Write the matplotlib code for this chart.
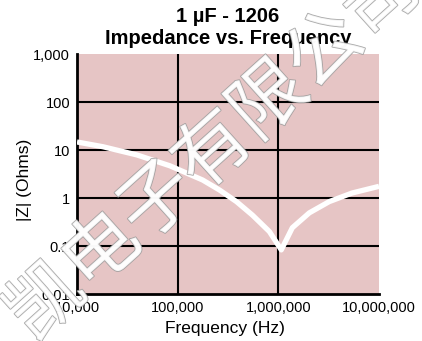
import matplotlib
matplotlib.use("Agg")
import matplotlib.pyplot as plt
import matplotlib.patheffects as pe

plt.rcParams['font.family'] = ['Liberation Sans', 'DejaVu Sans']

# values
freq_hz = [10000, 18100, 39300, 83400, 177000, 260000, 384000, 553000,
           815000, 1070000, 1377000, 2030000, 3200000, 5400000, 10000000]
impedance_ohm = [14.7, 11.7, 7.9, 4.7, 2.37, 1.47, 0.84, 0.44,
                 0.20, 0.083, 0.24, 0.49, 0.84, 1.27, 1.75]

x_ticks = [1e4, 1e5, 1e6, 1e7]
x_labels = ["10,000", "100,000", "1,000,000", "10,000,000"]
y_ticks = [0.01, 0.1, 1, 10, 100, 1000]
y_labels = ["0.01", "0.1", "1", "10", "100", "1,000"]

fig = plt.figure(figsize=(4.22, 3.41), dpi=100)
ax = fig.add_axes([77/422, 1-294/341, 302/422, 240/341])
ax.set_facecolor('#e6c5c5')

ax.set_xscale('log')
ax.set_yscale('log')
ax.set_xlim(1e4, 1e7)
ax.set_ylim(0.01, 1000)
ax.minorticks_off()

ax.set_xticks(x_ticks)
ax.set_xticklabels(x_labels, fontsize=10.5)
ax.set_yticks(y_ticks)
ax.set_yticklabels(y_labels, fontsize=10.5)
ax.tick_params(length=0, pad=5)

# grid at decades only
for f in x_ticks[1:-1]:
    ax.axvline(f, color='black', lw=1.5, zorder=1)
for z in y_ticks[1:-1]:
    ax.axhline(z, color='black', lw=1.5, zorder=1)

for s in ['top', 'right']:
    ax.spines[s].set_visible(False)
for s in ['left', 'bottom']:
    ax.spines[s].set_linewidth(2)

ax.plot(freq_hz, impedance_ohm, color='white', lw=3.8, zorder=3,
        solid_capstyle='butt', solid_joinstyle='round')

fig.text(225/422, 1-329/341, "Frequency (Hz)", ha='center', va='center', fontsize=12.5)
fig.text(25/422, 1-180/341, "|Z| (Ohms)", ha='center', va='center',
         rotation=90, fontsize=12.5)

fig.text(228/422, 1-17/341, "1 \u00b5F - 1206", ha='center', va='center',
         fontsize=14.5, fontweight='bold')
fig.text(228/422, 1-38/341, "Impedance vs. Frequency", ha='center', va='center',
         fontsize=14.5, fontweight='bold')

# watermark
fig.text(214/422, 1-152/341, "凯电子有限公司", ha='center', va='center',
         rotation=42, rotation_mode='anchor', fontsize=54, color='white',
         family=['Noto Sans CJK SC', 'DejaVu Sans'], alpha=0.85,
         path_effects=[pe.Stroke(linewidth=1.2, foreground='#9a9a9a'), pe.Normal()])

fig.savefig("out.png", dpi=100)
